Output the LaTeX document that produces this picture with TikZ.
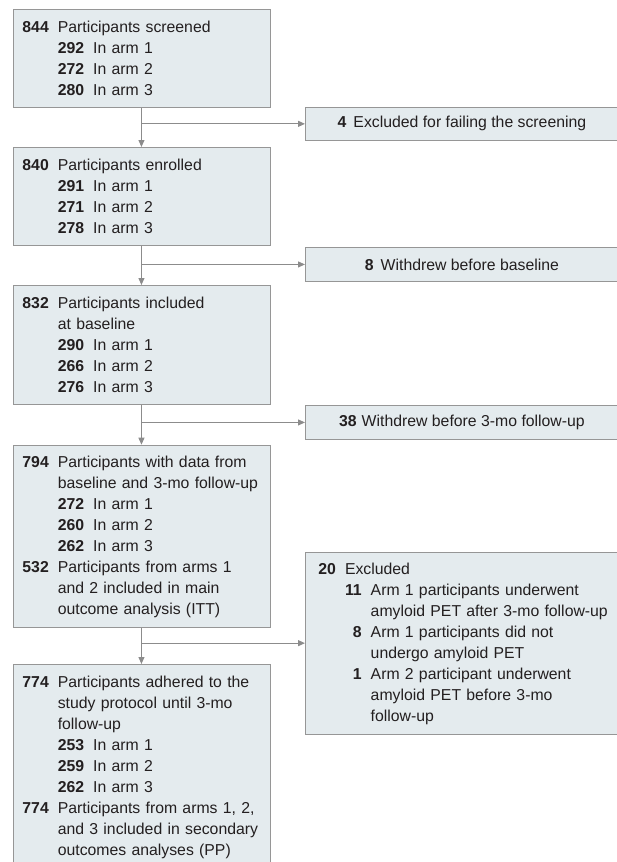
\documentclass[tikz,border=0pt]{standalone}
\usepackage{fontspec}
\setmainfont{Liberation Sans}
\usetikzlibrary{arrows.meta}

\definecolor{boxfill}{RGB}{228,235,238}
\definecolor{boxline}{RGB}{150,150,150}
\definecolor{linkgray}{RGB}{140,140,140}
\definecolor{textgray}{RGB}{35,31,32}

\newcommand{\flowtab}[1]{\begin{tabular}{@{}r@{\hspace{9pt}}r@{\hspace{9pt}}l@{}}\rule{0pt}{16.7pt}#1\end{tabular}}
\newcommand{\mainrow}[2]{\textbf{#1} & \multicolumn{2}{@{}l@{}}{#2}\\}
\newcommand{\maincont}[1]{& \multicolumn{2}{@{}l@{}}{#1}\\}
\newcommand{\subrow}[2]{& \textbf{#1} & #2\\}
\newcommand{\subcont}[1]{& & #1\\}

\begin{document}
\begin{tikzpicture}[x=1pt, y=-1pt,
      >={Triangle[length=7pt, width=6pt]},
      graybox/.style={draw=boxline, fill=boxfill, line width=0.9pt, anchor=north west,
        inner xsep=9.5pt, inner ysep=6pt, text width=238pt, text=textgray,
        font=\fontsize{15.8}{21}\selectfont},
      sidebox/.style={draw=boxline, fill=boxfill, line width=0.9pt, anchor=north west,
        minimum width=313pt, minimum height=33.4pt, text=textgray,
        font=\fontsize{15.8}{21}\selectfont},
      link/.style={draw=linkgray, line width=1pt}]

    \useasboundingbox (0,0) rectangle (616,862);

    \node[graybox] (screen) at (12.5,9.3) {\flowtab{\mainrow{844}{Participants screened}
        \subrow{292}{In arm 1}\subrow{272}{In arm 2}\subrow{280}{In arm 3}}};
    \node[graybox] (enrol) at (12.5,147) {\flowtab{\mainrow{840}{Participants enrolled}
        \subrow{291}{In arm 1}\subrow{271}{In arm 2}\subrow{278}{In arm 3}}};
    \node[graybox] (base) at (12.5,285) {\flowtab{\mainrow{832}{Participants included}
        \maincont{at baseline}
        \subrow{290}{In arm 1}\subrow{266}{In arm 2}\subrow{276}{In arm 3}}};
    \node[graybox] (data) at (12.5,444.7) {\flowtab{\mainrow{794}{Participants with data from}
        \maincont{baseline and 3-mo follow-up}
        \subrow{272}{In arm 1}\subrow{260}{In arm 2}\subrow{262}{In arm 3}
        \mainrow{532}{Participants from arms 1}
        \maincont{and 2 included in main}
        \maincont{outcome analysis (ITT)}}};
    \node[graybox] (adher) at (12.5,664) {\flowtab{\mainrow{774}{Participants adhered to the}
        \maincont{study protocol until 3-mo}
        \maincont{follow-up}
        \subrow{253}{In arm 1}\subrow{259}{In arm 2}\subrow{262}{In arm 3}
        \mainrow{774}{Participants from arms 1, 2,}
        \maincont{and 3 included in secondary}
        \maincont{outcomes analyses (PP)}}};

    \node[sidebox] (fail) at (305,106.7) {\textbf{4}\hspace{7pt}Excluded for failing the screening};
    \node[sidebox] (wbase) at (305,247.3) {\textbf{8}\hspace{7pt}Withdrew before baseline};
    \node[sidebox] (wfollow) at (305,405.3) {\textbf{38}\hspace{5pt}Withdrew before 3-mo follow-up};
    \node[graybox, inner xsep=13pt, text width=287pt] (excl) at (305,551.7) {\flowtab{\mainrow{20}{Excluded}
        \subrow{11}{Arm 1 participants underwent}
        \subcont{amyloid PET after 3-mo follow-up}
        \subrow{8}{Arm 1 participants did not}
        \subcont{undergo amyloid PET}
        \subrow{1}{Arm 2 participant underwent}
        \subcont{amyloid PET before 3-mo}
        \subcont{follow-up}}};

    \draw[link, ->] (screen.south) -- (enrol.north);
    \draw[link, ->] (screen.south |- fail.west) -- (fail.west);

    \draw[link, ->] (enrol.south) -- (base.north);
    \draw[link, ->] (enrol.south |- wbase.west) -- (wbase.west);

    \draw[link, ->] (base.south) -- (data.north);
    \draw[link, ->] (base.south |- wfollow.west) -- (wfollow.west);

    \draw[link, ->] (data.south) -- (adher.north);
    \draw[link, ->] (data.south |- excl.west) -- (excl.west);

  \end{tikzpicture}
\end{document}
